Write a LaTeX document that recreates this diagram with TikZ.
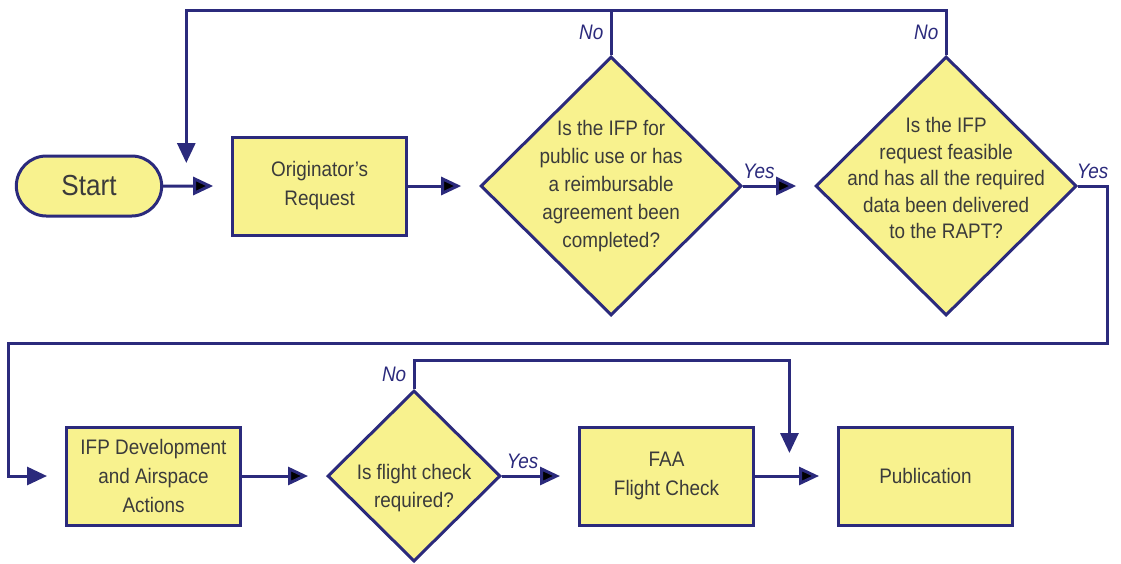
\documentclass[tikz,border=0pt]{standalone}
\usepackage{fontspec}
\setmainfont{Liberation Sans}[FakeStretch=0.9]
\usetikzlibrary{chains,positioning,shapes.geometric,shapes.misc,arrows.meta,calc}
\definecolor{navy}{HTML}{2B2A7C}
\definecolor{boxfill}{HTML}{F8F28E}
\definecolor{ink}{HTML}{3B3B3B}

\begin{document}
\begin{tikzpicture}[
              x=1pt, y=-1pt,
              line width=3pt,
              boxbase/.style={
                  draw=navy,
                  fill=boxfill,
                  text=ink,
                  align=center,
                  font=\fontsize{21}{29}\selectfont,
                },
              terminal/.style={boxbase, rounded rectangle, minimum width=152pt, minimum height=60pt, font=\fontsize{29}{34}\selectfont},
              process/.style={boxbase, rectangle, minimum width=174pt, minimum height=98pt},
              decision/.style={boxbase, diamond, inner sep=0pt},
              ask/.style={text=ink, align=center, font=\fontsize{21}{28}\selectfont},
              answer/.style={text=navy, font=\itshape\fontsize{21}{24}\selectfont},
              flow/.style={draw=navy, -{Triangle[length=20pt,width=18pt]}, shorten >=18pt},
              link/.style={draw=navy},
              start chain=going right,
              node distance=71pt
            ]
            \useasboundingbox (0,0) rectangle (1121,563);

            % upper row
            \node[terminal, on chain] (start) at (89,186) {Start};
            \node[process, on chain, xshift=-3pt] (orig) {Originator's\\Request};
            \node[decision, on chain, minimum width=261pt, minimum height=259pt,
                  label={[ask]center:{Is the IFP for\\public use or has\\a reimbursable\\agreement been\\completed?}}] (public) {};
            \node[decision, on chain, minimum width=261pt, minimum height=259pt,
                  label={[ask, font=\fontsize{21}{26.5}\selectfont, yshift=8pt]center:{Is the IFP\\request feasible\\and has all the required\\data been delivered\\to the RAPT?}}] (feasible) {};

            % lower row
            \node[process] (dev) at (153.5,476) {IFP Development\\and Airspace\\Actions};
            \node[decision, right=84pt of dev, minimum width=173pt, minimum height=171pt,
                  label={[ask, yshift=-12pt]center:{Is flight check\\required?}}] (check) {};
            \node[process, right=76pt of check] (faa) {FAA\\Flight Check};
            \node[process, right=82pt of faa] (pub) {Publication};

            \coordinate (loopin) at ($(start.east)!0.34!(orig.west)$);
            \coordinate (pubin) at ($(faa.east)!0.42!(pub.west)$);
            \coordinate (topline) at (0,10);
            \coordinate (midline) at (0,360);
            \coordinate (wrap) at (8,343);

            \path[flow]
            (start) edge (orig)
            (orig) edge (public)
            (public) edge node[answer, above=2pt, pos=0.22] {Yes} (feasible)
            (dev) edge (check)
            (check) edge node[answer, above=2pt, pos=0.27] {Yes} (faa)
            (faa) edge (pub)
            ;
            \draw[flow, shorten >=23pt] (public.north) |- node[answer, near start, left=3pt] {No} (topline -| loopin) -- (loopin);
            \draw[link] (feasible.north) |- node[answer, near start, left=3pt] {No} (topline -| public.north);
            \draw[flow] (feasible.east) -- ++(29,0) node[answer, midway, above=2pt] {Yes} |- (wrap) |- (dev);
            \draw[flow, shorten >=23pt] (check.north) |- node[answer, near start, left=3pt] {No} (midline -| pubin) -- (pubin);
          \end{tikzpicture}
\end{document}
